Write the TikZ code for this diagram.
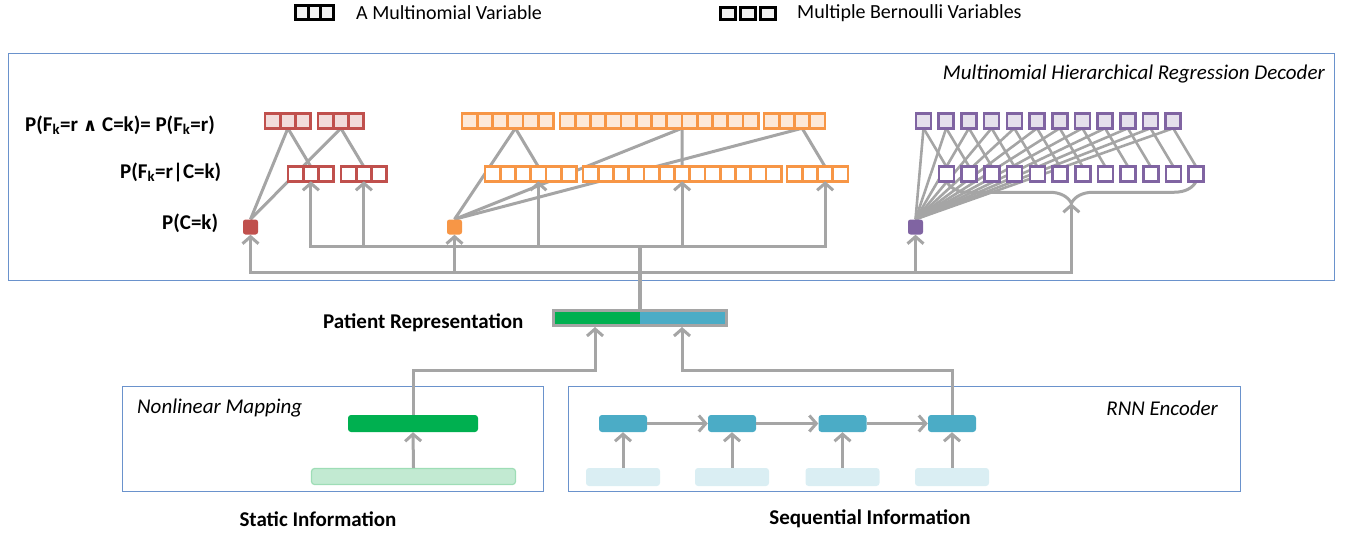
\documentclass[tikz,border=0pt]{standalone}
\usepackage{fontspec}
\setmainfont{Carlito}
\newfontfamily\dejavu{DejaVu Sans}
\usetikzlibrary{arrows.meta,decorations.pathreplacing,calc}
\pgfdeclarelayer{bg}
\pgfsetlayers{bg,main}
\definecolor{lgray}{HTML}{A5A5A5}
\definecolor{mred}{HTML}{C0504D}
\definecolor{mredl}{HTML}{F2DCDB}
\definecolor{morange}{HTML}{F79646}
\definecolor{morangel}{HTML}{FDE9D9}
\definecolor{mpur}{HTML}{8064A2}
\definecolor{mpurl}{HTML}{E5E0EC}
\definecolor{pgreen}{HTML}{00B050}
\definecolor{pgreenl}{HTML}{C2EAD2}
\definecolor{pgreenb}{HTML}{9EDDB6}
\definecolor{pblue}{HTML}{4BACC6}
\definecolor{pbluel}{HTML}{DAEEF3}
\definecolor{panelc}{HTML}{6A92CC}
\newcommand\mcells[6]{%
  \foreach \i in {1,...,#4} {\node[cell, draw=#5, fill=#6] (#1-\i) at ({#2+(\i-0.5)*15.25}, #3) {};}}
\begin{document}
\begin{tikzpicture}[x=1pt,y=-1pt,
  txt/.style={inner sep=0pt, font=\fontsize{21}{25}\selectfont},
  btxt/.style={inner sep=0pt, font=\fontsize{21}{25}\selectfont\bfseries},
  itxt/.style={inner sep=0pt, font=\fontsize{21}{25}\selectfont\itshape},
  conn/.style={draw=lgray, line width=3pt},
  arr/.style={conn, -{Straight Barb[length=7pt,width=16pt]}},
  cell/.style={draw, line width=2.6pt, minimum width=15.25pt, minimum height=14.5pt, inner sep=0pt, outer sep=0pt},
  sq/.style={minimum width=15pt, minimum height=15pt, inner sep=0pt, rounded corners=2.5pt},
  panel/.style={draw=panelc, line width=1.2pt, anchor=north west, inner sep=0pt},
  bar/.style={minimum height=17pt, inner sep=0pt, rounded corners=3pt},
  lcell/.style={draw=black, line width=3pt, fill=black!5, inner sep=0pt, outer sep=0pt}
]
\useasboundingbox (0,0) rectangle (1348,533);

% legend
\foreach \i in {1,2,3} {\node[lcell, minimum width=12.7pt, minimum height=14pt] (lm-\i) at ({296+(\i-0.5)*12.4},12.5) {};}
\node[txt, anchor=west, font=\fontsize{20}{24}\selectfont] (lmt) at (356,13) {A Multinomial Variable};
\foreach \i/\x in {1/727.5,2/748,3/767.5} {\node[lcell, minimum width=15pt, minimum height=12pt] (lb-\i) at (\x,13.5) {};}
\node[txt, anchor=west, font=\fontsize{20}{24}\selectfont] (lbt) at (797,13) {Multiple Bernoulli Variables};

% panels
\node[panel, minimum width=1326pt, minimum height=227pt] (dec) at (8,53) {};
\node[panel, minimum width=421pt, minimum height=105pt] (nlm) at (122,386) {};
\node[panel, minimum width=672pt, minimum height=105pt] (rnn) at (568,386) {};
\node[itxt, anchor=east] (dect) at (1325,74) {Multinomial Hierarchical Regression Decoder};
\node[itxt, anchor=west] (nlmt) at (137,408) {Nonlinear Mapping};
\node[itxt, anchor=east] (rnnt) at (1218,408) {RNN Encoder};

% labels
\node[btxt, anchor=west] (l1) at (25,125) {P(F\textsubscript{k}=r {\dejavu\bfseries\fontsize{18}{20}\selectfont ∧} C=k)= P(F\textsubscript{k}=r)};
\node[btxt, anchor=west] (l2) at (120,172) {P(F\textsubscript{k}=r|C=k)};
\node[btxt, anchor=west] (l3) at (162,223) {P(C=k)};
\node[btxt, anchor=west] (l4) at (323,323) {Patient Representation};
\node[btxt] (l5) at (318,519) {Static Information};
\node[btxt] (l6) at (870,519) {Sequential Information};

% red groups
\mcells{rt1}{265}{121}{3}{mred}{mredl}
\mcells{rt2}{318}{121}{3}{mred}{mredl}
\mcells{rm1}{288}{174}{3}{mred}{white}
\mcells{rm2}{341}{174}{3}{mred}{white}
% orange groups
\mcells{ot1}{462}{121}{6}{morange}{morangel}
\mcells{ot2}{560}{121}{13}{morange}{morangel}
\mcells{ot3}{764}{121}{4}{morange}{morangel}
\mcells{om1}{485}{174}{6}{morange}{white}
\mcells{om2}{583}{174}{13}{morange}{white}
\mcells{om3}{787}{174}{4}{morange}{white}
% purple
\foreach \i in {1,...,12} {
  \node[cell, minimum width=15pt, draw=mpur, fill=mpurl] (pt-\i) at ({923.5+(\i-1)*22.7},121) {};
  \node[cell, minimum width=15pt, draw=mpur, fill=white] (pm-\i) at ({946.5+(\i-1)*22.7},174) {};
}
% class squares
\node[sq, fill=mred] (rsq) at (250.5,227) {};
\node[sq, fill=morange] (osq) at (454.5,227) {};
\node[sq, fill=mpur] (psq) at (915.5,227) {};

% patient representation
\node[draw=lgray, line width=3pt, minimum width=173pt, minimum height=15pt, inner sep=0pt] (pr) at (640,318) {};

% encoders
\node[bar, fill=pgreen, minimum width=130pt] (gb) at (413,423.5) {};
\node[bar, fill=pgreenl, draw=pgreenb, line width=1.2pt, minimum width=204pt, minimum height=16pt] (lg) at (413.5,476.5) {};
\foreach \i/\x in {1/623,2/732,3/842.5,4/952} {
  \node[bar, fill=pblue, minimum width=48pt] (c\i) at (\x,423.5) {};
  \node[bar, fill=pbluel, minimum width=74pt, minimum height=18pt] (in\i) at (\x,477) {};
}

\begin{pgfonlayer}{bg}
  \fill[pgreen] (pr.south west) rectangle (pr.north);
  \fill[pblue] (pr.north) rectangle (pr.south east);
  % red links
  \draw[conn] (rsq.north) -- (rt1-2.south);
  \draw[conn] (rsq.north) -- (rt2-2.south);
  \draw[conn] (rt1-2.south) -- (rm1-2.north);
  \draw[conn] (rt2-2.south) -- (rm2-2.north);
  % orange links
  \draw[conn] (osq.north) -- (ot1-4.south);
  \draw[conn] (osq.north) -- (ot2-8.south east);
  \draw[conn] (osq.north) -- (ot3-3.south);
  \draw[conn] (ot1-4.south) -- (om1-4.north);
  \draw[conn] (ot2-8.south east) -- (om2-7.north);
  \draw[conn] (ot3-3.south) -- (om3-3.north);
  % purple links
  \foreach \i in {1,...,12} {
    \draw[conn, line width=2.6pt] (psq.north) -- (pt-\i.south);
    \draw[conn, line width=2.6pt] (pt-\i.south) -- (pm-\i.north);
  }
  \draw[conn, decorate, decoration={brace, amplitude=22pt, mirror}] (pm-1.south) -- (pm-12.south);
\end{pgfonlayer}
\coordinate (btip) at ($(pm-1.south)!0.5!(pm-12.south)+(0,22)$);

% buses
\coordinate (ub) at (640,246);
\coordinate (lb) at (640,272);
\draw[conn, line width=4pt] (pr.north) -- (ub);
\draw[arr] (ub) -| (rm1-2.south);
\draw[arr] (ub) -| (rm2-2.south);
\draw[arr] (ub) -| (om1-4.south);
\draw[arr] (ub) -| (om2-7.south);
\draw[arr] (ub) -| (om3-3.south);
\draw[arr] (lb) -| (rsq.south);
\draw[arr] (lb) -| (osq.south);
\draw[arr] (lb) -| (psq.south);
\draw[arr] (lb) -| (btip);

% encoder connectors
\draw[arr] (lg.north) -- (gb.south);
\coordinate (jl) at (413,370);
\coordinate (jr) at (952,370);
\draw[arr] (gb.north) -- (jl) -| ([xshift=-45pt]pr.south);
\draw[arr] (c4.north) -- (jr) -| ([xshift=42pt]pr.south);
\foreach \i in {1,2,3,4} {\draw[arr] (in\i.north) -- (c\i.south);}
\draw[arr] (c1.east) -- (c2.west);
\draw[arr] (c2.east) -- (c3.west);
\draw[arr] (c3.east) -- (c4.west);
\end{tikzpicture}
\end{document}
